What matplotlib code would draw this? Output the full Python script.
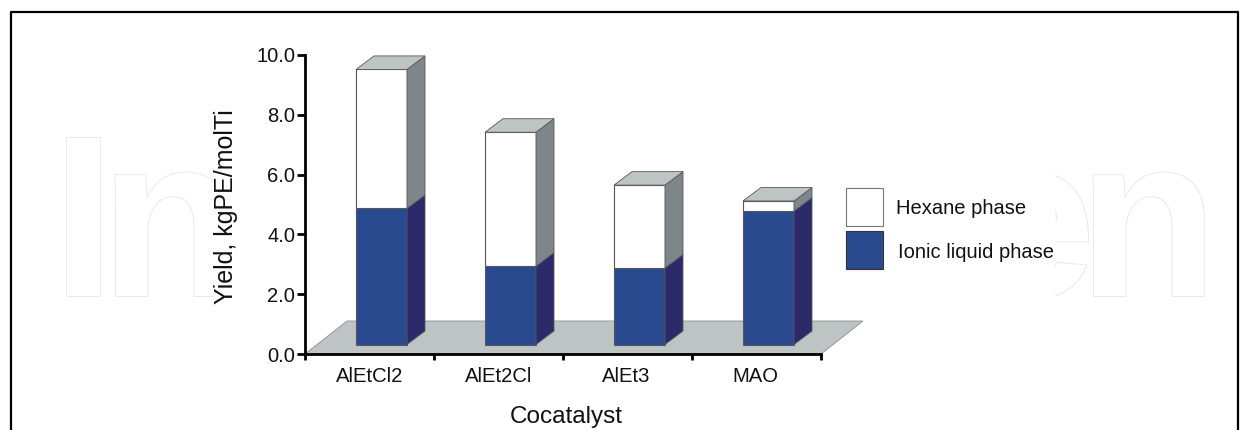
import matplotlib
matplotlib.use("Agg")
import matplotlib.pyplot as plt
import matplotlib.patheffects as pe
from matplotlib.patches import Polygon, Rectangle
import numpy as np

categories = ["AlEtCl2", "AlEt2Cl", "AlEt3", "MAO"]
ionic_liquid = [4.55, 2.62, 2.56, 4.46]
hexane = [4.65, 4.48, 2.77, 0.34]
y_ticks = [0, 2, 4, 6, 8, 10]
series_names = ["Hexane phase", "Ionic liquid phase"]

W, H = 1248, 430
plt.rcParams['font.family'] = ['Liberation Sans', 'DejaVu Sans']
fig = plt.figure(figsize=(W / 100, H / 100), dpi=100)
bg = fig.add_axes([0, 0, 1, 1])
bg.set_xlim(0, W); bg.set_ylim(H, 0); bg.axis('off')

# frame
bg.plot([10.5, 10.5, 1237.5, 1237.5], [H + 5, 12, 12, H + 5], color='black', lw=1.6, clip_on=True)

# watermark
stroke = [pe.Stroke(linewidth=1.4, foreground='#e9e9e9'), pe.Normal()]
t0 = bg.text(52, 296, "I", fontsize=165, color='white', va='baseline', ha='left',
             fontweight='bold', path_effects=stroke, clip_on=True)
t1 = bg.text(100, 296, "n", fontsize=165, color='white', va='baseline', ha='left',
             fontweight='bold', path_effects=stroke, clip_on=True)
t1.set_clip_path(Rectangle((0, 0), 214, H, transform=bg.transData))
t2 = bg.text(1096, 296, "e", fontsize=165, color='white', va='baseline', ha='right',
             fontweight='bold', path_effects=stroke, clip_on=True)
t2.set_clip_path(Rectangle((1055, 0), 60, H, transform=bg.transData))
t3 = bg.text(1218, 296, "n", fontsize=165, color='white', va='baseline', ha='right',
             fontweight='bold', path_effects=stroke, clip_on=True)

# main axes
ax = fig.add_axes([305 / W, 1 - 354 / H, (821 - 305) / W, (354 - 55) / H])
ax.patch.set_alpha(0)
ax.set_xlim(0, 4); ax.set_ylim(0, 10)
for s in ('top', 'right'):
    ax.spines[s].set_visible(False)
for s in ('left', 'bottom'):
    ax.spines[s].set_linewidth(2.0)

ppx = 4 / (821 - 305)       # data units per pixel, x
ppy = 10 / (354 - 55)       # data units per pixel, y
base = 9.5 * ppy            # bars stand on the floor
depth_x, depth_y = 18 * ppx, 13.5 * ppy
bw = 51 * ppx
x0 = np.arange(len(categories)) + 0.593 - bw / 2

# floor
ax.add_patch(Polygon([(0, 0), (4, 0), (4 + 42 * ppx, 33 * ppy), (42 * ppx, 33 * ppy)],
                     closed=True, fc='#bec3c3', ec='#8a8f8f', lw=0.6, clip_on=False, zorder=1))

BLUE, BLUE_D = '#2a4a90', '#2d2a6c'
WHITE, GREY_D = 'white', '#7f8689'
TOP = '#bec3c3'
EDGE = '#55585b'

def box(x, bottom, height, face, side, draw_top=False):
    y1 = bottom + height
    ax.add_patch(Rectangle((x, bottom), bw, height, fc=face, ec=EDGE, lw=0.8, clip_on=False, zorder=3))
    ax.add_patch(Polygon([(x + bw, bottom), (x + bw + depth_x, bottom + depth_y),
                          (x + bw + depth_x, y1 + depth_y), (x + bw, y1)],
                         closed=True, fc=side, ec=EDGE, lw=0.6, clip_on=False, zorder=3))
    if draw_top:
        ax.add_patch(Polygon([(x, y1), (x + depth_x, y1 + depth_y),
                              (x + bw + depth_x, y1 + depth_y), (x + bw, y1)],
                             closed=True, fc=TOP, ec=EDGE, lw=0.6, clip_on=False, zorder=3))

for x, a, b in zip(x0, ionic_liquid, hexane):
    box(x, base, a, BLUE, BLUE_D)
    box(x, base + a, b, WHITE, GREY_D, draw_top=True)

# ticks
ax.set_yticks(y_ticks)
ax.set_yticklabels([f"{v:.1f}" for v in y_ticks], fontsize=14.5, color='#111111')
ax.set_xticks(range(5))
ax.set_xticklabels([])
ax.tick_params(axis='y', length=6, width=2, pad=1)
ax.tick_params(axis='x', length=4, width=2)
label_pos = [0.5, 1.5, 2.49, 3.49]
for x, c in zip(label_pos, categories):
    ax.text(x, -0.74, c, ha='center', va='center', fontsize=14.6, color='#111111')

bg.text(226, 207, "Yield, kgPE/molTi", rotation=90, ha='center', va='center',
        fontsize=18, color='#111111')
bg.text(566, 417, "Cocatalyst", ha='center', va='center', fontsize=17.5, color='#111111')

# legend
bg.add_patch(Rectangle((846, 188), 37, 38, fc='white', ec='#777777', lw=0.8))
bg.add_patch(Rectangle((846, 231), 37, 38, fc=BLUE, ec='#333333', lw=0.8))
bg.text(896, 208, series_names[0], va='center', ha='left', fontsize=14.5, color='#111111')
bg.text(898, 252, series_names[1], va='center', ha='left', fontsize=14.5, color='#111111')

fig.savefig("out.png", dpi=100, facecolor='white')
